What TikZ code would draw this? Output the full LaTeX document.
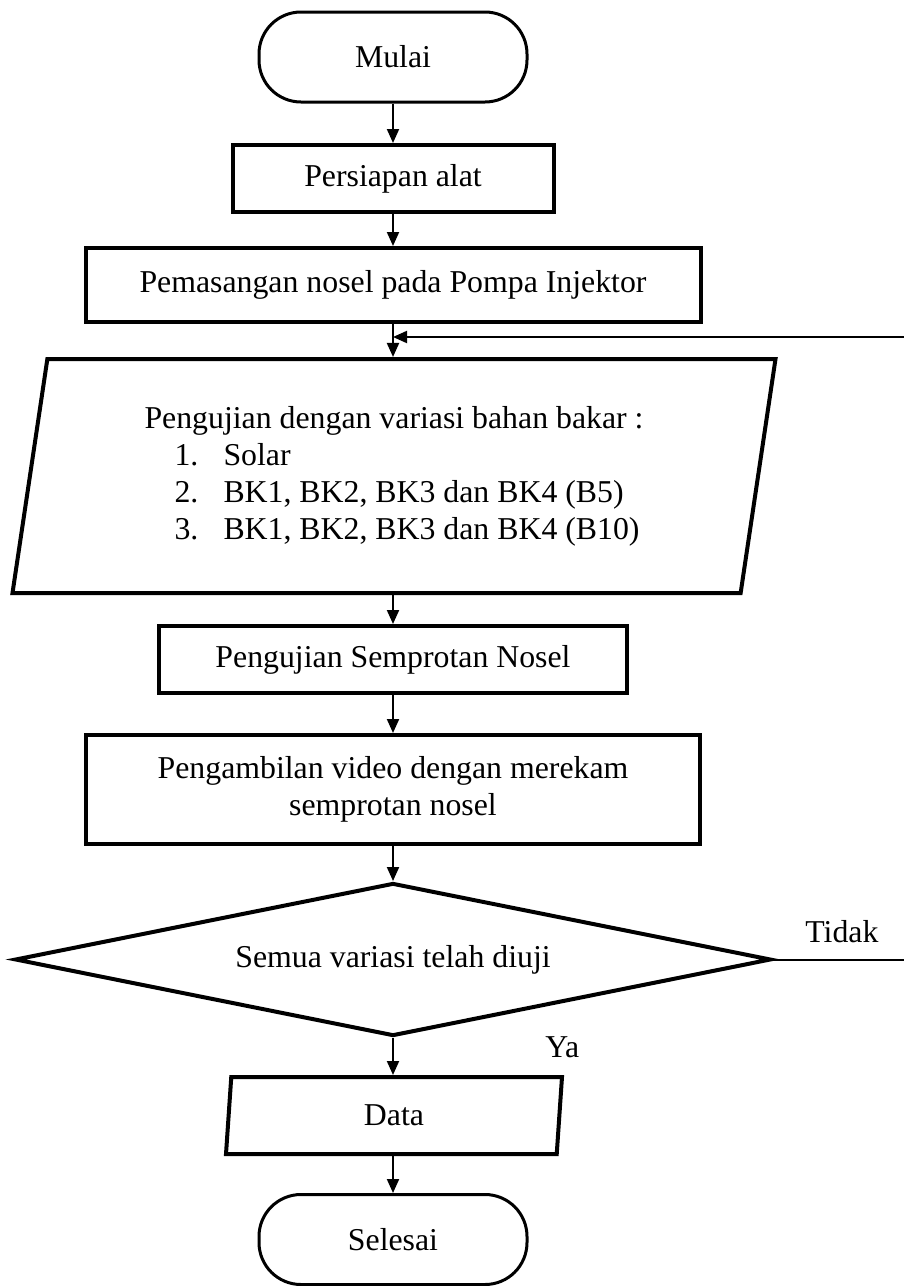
\documentclass[tikz,border=0pt]{standalone}
\usepackage{fontspec}
\setmainfont{Liberation Serif}
\usetikzlibrary{shapes.geometric,arrows.meta,positioning}

\begin{document}
\begin{tikzpicture}[x=0.5pt,y=-0.5pt,font=\fontsize{15.9}{18.5}\selectfont,
  terminal/.style={draw,line width=1.5pt,rounded corners=21pt,minimum width=134pt,minimum height=45pt},
  prosesbox/.style={draw,line width=2pt,rectangle},
  iobox/.style={draw,line width=2pt,trapezium,trapezium left angle=76,trapezium right angle=104,trapezium stretches body},
  cekbox/.style={draw,line width=2pt,diamond,shape aspect=5},
  arus/.style={line width=1pt,-{Triangle[width=6pt,length=7pt]}}]
\tikzstyle{every node}+=[inner sep=0pt]
\useasboundingbox (0,0) rectangle (904,1286);
\clip (0,0) rectangle (904,1286);
% langkah-langkah
\node [terminal] (mulai) at (393,57) {Mulai};
\node [prosesbox,minimum width=160.5pt,minimum height=33.5pt] (siap) at (393,178.5) {Persiapan alat};
\node [prosesbox,minimum width=307.5pt,minimum height=37pt] (pasang) at (393,285) {Pemasangan nosel pada Pompa Injektor};
\node [iobox,minimum width=381.5pt,minimum height=117pt,align=left] (uji) at (394,476) {Pengujian dengan variasi bahan bakar :\\
  \hspace*{15pt}\makebox[24.5pt][l]{1.}Solar\\
  \hspace*{15pt}\makebox[24.5pt][l]{2.}BK1, BK2, BK3 dan BK4 (B5)\\
  \hspace*{15pt}\makebox[24.5pt][l]{3.}BK1, BK2, BK3 dan BK4 (B10)};
\node [prosesbox,minimum width=234pt,minimum height=33.5pt] (semprot) at (393,659.5) {Pengujian Semprotan Nosel};
\node [prosesbox,minimum width=307pt,minimum height=54.5pt,align=center] (rekam) at (393,789.5) {Pengambilan video dengan merekam\\semprotan nosel};
\node [cekbox,minimum width=378pt,minimum height=76.5pt] (cek) at (393,959.5) {Semua variasi telah diuji};
\node [iobox,minimum width=168pt,minimum height=38.5pt] (data) at (394,1115.5) {Data};
\node [terminal] (selesai) at (393,1239.5) {Selesai};
\coordinate (balik) at (393,337);
% label keputusan
\node [anchor=base west] (tidak) at (805,942) {Tidak};
\node [anchor=base west] (ya) at (545,1057) {Ya};
% panah
\draw [arus] (mulai) -- (siap);
\draw [arus] (siap) -- (pasang);
\draw [arus] (pasang) -- (pasang.south |- uji.north);
\draw [arus] (uji.south -| semprot.north) -- (semprot);
\draw [arus] (semprot) -- (rekam);
\draw [arus] (rekam) -- (cek);
\draw [arus] (cek) -- (cek.south |- data.north);
\draw [arus] (cek.south |- data.south) -- (selesai);
\draw [arus] (cek.east) -- ++(200,0) |- (balik);
\end{tikzpicture}
\end{document}
